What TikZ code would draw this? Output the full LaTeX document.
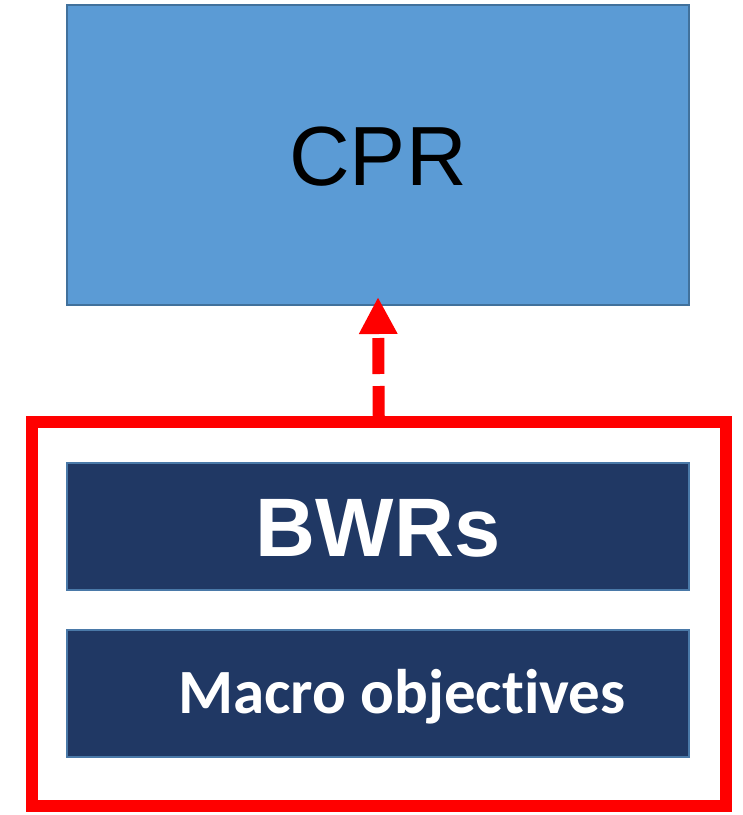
\documentclass[tikz,border=0pt]{standalone}
\usepackage{fontspec}
\newfontfamily\arialfont{Liberation Sans}
\newfontfamily\calibrifont[Ligatures={NoCommon,NoRare,NoDiscretionary}]{Carlito}
\usetikzlibrary{arrows.meta}
\definecolor{cprblue}{HTML}{5B9BD5}
\definecolor{cprborder}{HTML}{41719C}
\definecolor{navy}{HTML}{203864}
\definecolor{navyborder}{HTML}{4A79A8}
\tikzset{
  box/.style={rectangle, inner sep=0pt, minimum width=622pt, line width=2pt},
  cprbox/.style={box, minimum height=300pt, fill=cprblue, draw=cprborder,
    font=\arialfont\fontsize{84}{90}\selectfont, text=black, text height=60pt, text depth=0pt},
  darkbox/.style={box, minimum height=127pt, fill=navy, draw=navyborder, text=white, text height=40pt, text depth=0pt},
  groupbox/.style={rectangle, inner sep=0pt, draw=red, line width=12pt, minimum width=694.5pt, minimum height=384pt},
  dasharrow/.style={draw=red, line width=12pt, line cap=butt, dash pattern=on 36pt off 12pt, dash phase=6pt,
    -{Triangle[length=37pt,width=36pt]}}
}
\begin{document}
\begin{tikzpicture}[x=1pt,y=-1pt]
\useasboundingbox (0,0) rectangle (743,815);
\node[cprbox] (cpr) at (378,155) {CPR};
\node[groupbox] (grp) at (378.75,614) {};
\node[darkbox, font=\arialfont\bfseries\fontsize{83}{90}\selectfont, text height=60pt] (bwr) at (378,526) {BWRs};
\node[darkbox, font=\calibrifont\bfseries\fontsize{63}{70}\selectfont, text height=41pt] (macro) at (378,693) {\hspace*{48pt}Macro objectives};
\draw[dasharrow] (grp.north) -- ([yshift=9pt]cpr.south);
\end{tikzpicture}
\end{document}
